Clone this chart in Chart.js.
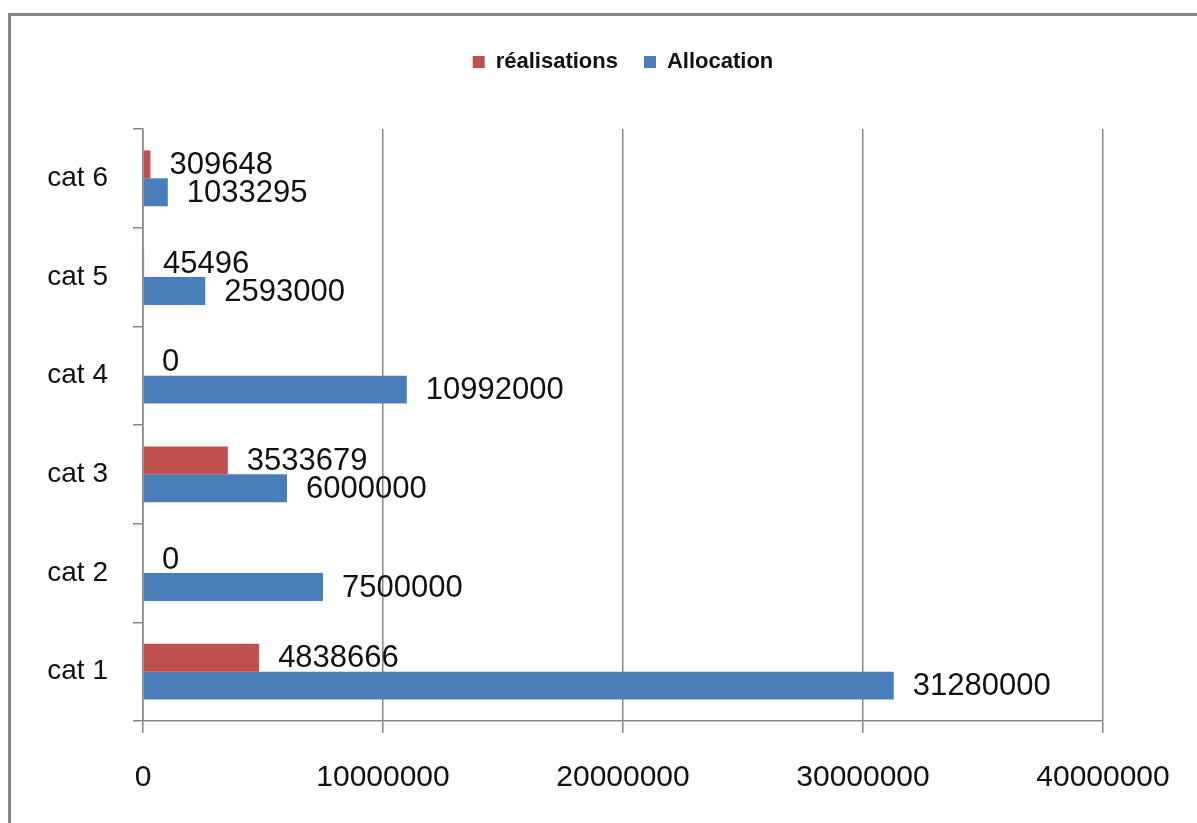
<!DOCTYPE html>
<html>
<head>
<meta charset="utf-8">
<script src="https://cdn.jsdelivr.net/npm/chart.js@4"></script>
<style>
  html,body{margin:0;padding:0;background:#fff;}
  #wrap{position:relative;width:1197px;height:823px;}
</style>
</head>
<body>
<div id="wrap"><canvas id="chart" width="1197" height="823"></canvas></div>
<script>
// data
const categories = ['cat 1','cat 2','cat 3','cat 4','cat 5','cat 6'];
const realisations = [4838666, 0, 3533679, 0, 45496, 309648];
const allocation = [31280000, 7500000, 6000000, 10992000, 2593000, 1033295];
const xTicks = [0, 10000000, 20000000, 30000000, 40000000];

const RED = '#C0504D', BLUE = '#4A7EBB', GRID = '#868686';
const FONT = "'Liberation Sans', Arial, sans-serif";

// grey frame round the chart (only top/left inside the window)
const framePlugin = {
  id: 'frame',
  beforeDraw(chart){
    const c = chart.ctx;
    c.save();
    c.strokeStyle = '#878787';
    c.lineWidth = 3;
    c.strokeRect(9.5, 14.5, 1400, 1000);
    c.restore();
  }
};

// stretch the legend box so the plot starts lower
const legendSpace = {
  id: 'legendSpace',
  beforeInit(chart){
    const lg = chart.legend;
    if(!lg) return;
    const fit = lg.fit;
    lg.fit = function(){ fit.call(this); this.height += 46; };
  }
};

// value labels next to the bar ends
const valueLabels = {
  id: 'valueLabels',
  afterDatasetsDraw(chart){
    const c = chart.ctx;
    c.save();
    c.font = '31px ' + FONT;
    c.fillStyle = '#111';
    c.textAlign = 'left';
    c.textBaseline = 'middle';
    chart.data.datasets.forEach((ds, i)=>{
      chart.getDatasetMeta(i).data.forEach((bar, j)=>{
        c.fillText(String(ds.data[j]), bar.x + 19, bar.y + 1);
      });
    });
    c.restore();
  }
};

new Chart(document.getElementById('chart').getContext('2d'), {
  type: 'bar',
  data: {
    labels: categories,
    datasets: [
      {label:'réalisations', data: realisations, backgroundColor: RED, borderWidth: 0},
      {label:'Allocation', data: allocation, backgroundColor: BLUE, borderWidth: 0}
    ]
  },
  options: {
    indexAxis: 'y',
    responsive: false,
    animation: false,
    categoryPercentage: 0.566,
    barPercentage: 1,
    layout: { padding: { top: 25, right: 94, bottom: 0, left: 0 } },
    plugins: {
      legend: {
        position: 'top',
        fullSize: false,
        labels: {
          boxWidth: 12, boxHeight: 12, padding: 26,
          color: '#111',
          font: { family: FONT, size: 22, weight: 'bold' }
        }
      },
      tooltip: { enabled: false }
    },
    scales: {
      x: {
        min: 0, max: 40000000,
        afterBuildTicks(s){ s.ticks = xTicks.map(v=>({value:v})); },
        afterFit(s){ s.height = 102; },
        grid: { color: GRID, lineWidth: 1.5, tickLength: 12, drawTicks: true },
        border: { color: GRID, width: 1.5 },
        ticks: {
          color: '#111', padding: 27, maxRotation: 0,
          font: { family: FONT, size: 30 },
          callback: v => String(v)
        }
      },
      y: {
        reverse: true,
        afterFit(s){ s.width = 143; },
        grid: { drawOnChartArea: false, color: GRID, lineWidth: 1.5, tickLength: 10, offset: true },
        border: { color: GRID, width: 1.5 },
        ticks: {
          color: '#111', padding: 25,
          font: { family: FONT, size: 28 }
        }
      }
    }
  },
  plugins: [framePlugin, legendSpace, valueLabels]
});
</script>
</body>
</html>
